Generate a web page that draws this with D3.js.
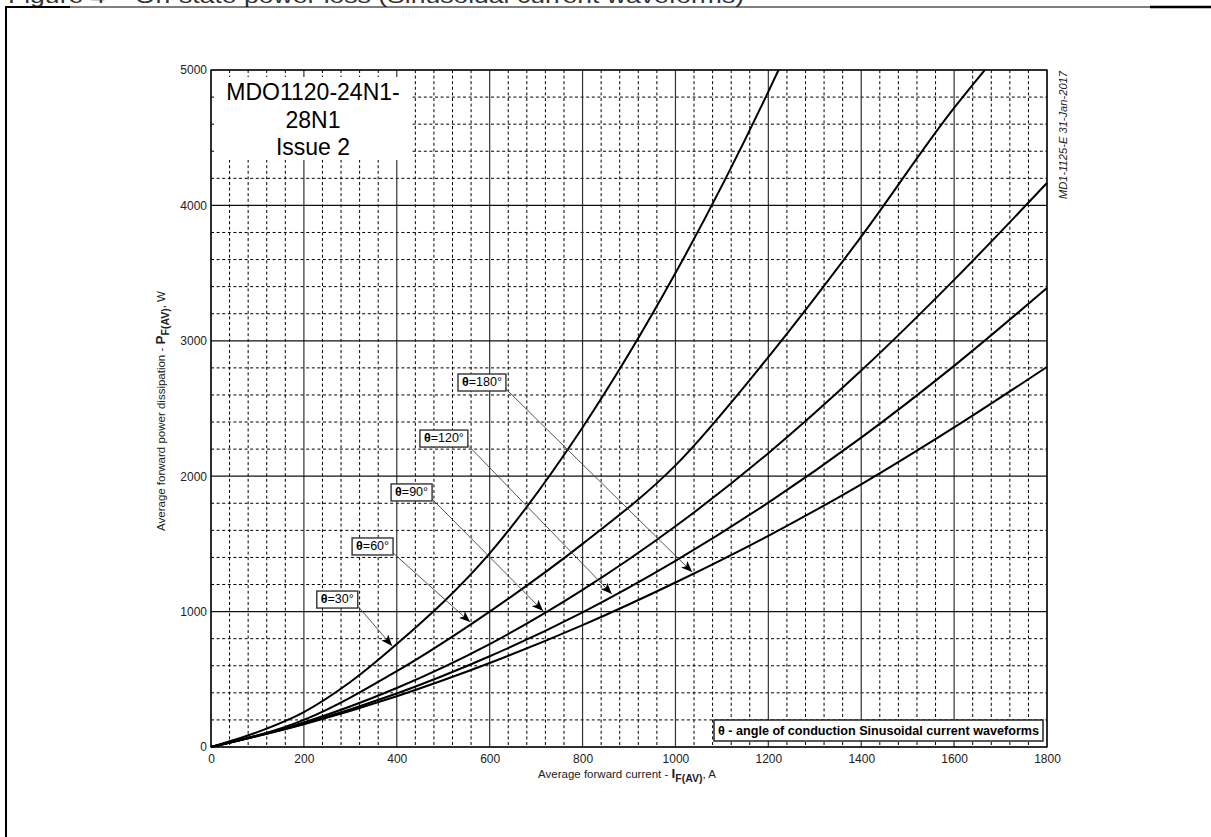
<!DOCTYPE html>
<html>
<head>
<meta charset="utf-8">
<script src="https://cdn.jsdelivr.net/npm/d3@7"></script>
<style>
  body { margin: 0; background: #fff; }
  svg { display: block; font-family: "Liberation Sans", Arial, sans-serif; }
</style>
</head>
<body>
<div id="chart"></div>
<script>
// tick values
var currentTicks = [0, 200, 400, 600, 800, 1000, 1200, 1400, 1600, 1800];
var powerTicks = [0, 1000, 2000, 3000, 4000, 5000];

// curves (A, W)
var current30 = [0, 100, 200, 300, 400, 600, 800, 1000, 1200, 1222];
var power30 = [0, 110, 258, 480, 760, 1430, 2360, 3500, 4840, 5000];
var current60 = [0, 200, 400, 600, 800, 1000, 1200, 1400, 1600, 1666];
var power60 = [0, 200, 560, 1000, 1500, 2080, 2880, 3770, 4720, 5000];
var currentFull = [0, 200, 400, 600, 800, 1000, 1200, 1400, 1600, 1800];
var power90 = [0, 182, 436, 760, 1160, 1630, 2170, 2780, 3450, 4166];
var power120 = [0, 172, 395, 670, 995, 1375, 1805, 2285, 2815, 3390];
var power180 = [0, 168, 375, 620, 900, 1215, 1560, 1940, 2360, 2807];

var angles = ["30°", "60°", "90°", "120°", "180°"];
var curveCurrents = [current30, current60, currentFull, currentFull, currentFull];
var curvePowers = [power30, power60, power90, power120, power180];

// annotation: label corner (A, W) and arrow tip current (A)
var labelCurrent = [316, 392, 476, 553, 635];
var labelPower = [1041, 1433, 1832, 2230, 2644];
var tipCurrent = [390, 558, 715, 863, 1036];

var W = 1211, H = 837;
var svg = d3.select("#chart").append("svg")
  .attr("width", W).attr("height", H);

// page header (cut off at the top, as in the source) and frame
svg.append("text")
  .attr("x", 8).attr("y", 3)
  .attr("font-size", 20).attr("fill", "#333")
  .attr("textLength", 736).attr("lengthAdjust", "spacingAndGlyphs")
  .text("Figure 4 – On-state power loss (Sinusoidal current waveforms)");
svg.append("line").attr("x1", 6).attr("x2", W).attr("y1", 7).attr("y2", 7)
  .attr("stroke", "#000").attr("stroke-width", 1);
svg.append("line").attr("x1", 6).attr("x2", 70).attr("y1", 7).attr("y2", 7)
  .attr("stroke", "#000").attr("stroke-width", 2);
svg.append("line").attr("x1", 1150).attr("x2", W).attr("y1", 7).attr("y2", 7)
  .attr("stroke", "#000").attr("stroke-width", 2.5);
svg.append("line").attr("x1", 6).attr("x2", 6).attr("y1", 6).attr("y2", H)
  .attr("stroke", "#000").attr("stroke-width", 2);

var x = d3.scaleLinear().domain([0, 1800]).range([211, 1047]);
var y = d3.scaleLinear().domain([0, 5000]).range([747, 70]);

// minor grid (dashed)
var g = svg.append("g");
var minorX = d3.range(40, 1800, 40).filter(function(d) { return d % 200 !== 0; });
var minorY = d3.range(200, 5000, 200).filter(function(d) { return d % 1000 !== 0; });
g.selectAll(".mx").data(minorX).enter().append("line")
  .attr("x1", function(d) { return x(d); }).attr("x2", function(d) { return x(d); })
  .attr("y1", y(5000)).attr("y2", y(0))
  .attr("stroke", "#000").attr("stroke-width", 1).attr("stroke-dasharray", "3,2.6");
g.selectAll(".my").data(minorY).enter().append("line")
  .attr("y1", function(d) { return y(d); }).attr("y2", function(d) { return y(d); })
  .attr("x1", x(0)).attr("x2", x(1800))
  .attr("stroke", "#000").attr("stroke-width", 1).attr("stroke-dasharray", "3,2.6");

// major grid (solid)
g.selectAll(".Mx").data(currentTicks).enter().append("line")
  .attr("x1", function(d) { return x(d); }).attr("x2", function(d) { return x(d); })
  .attr("y1", y(5000)).attr("y2", y(0))
  .attr("stroke", "#333").attr("stroke-width", 1.2);
g.selectAll(".My").data(powerTicks).enter().append("line")
  .attr("y1", function(d) { return y(d); }).attr("y2", function(d) { return y(d); })
  .attr("x1", x(0)).attr("x2", x(1800))
  .attr("stroke", "#111").attr("stroke-width", 1.2);
svg.append("rect")
  .attr("x", x(0)).attr("y", y(5000))
  .attr("width", x(1800) - x(0)).attr("height", y(0) - y(5000))
  .attr("fill", "none").attr("stroke", "#000").attr("stroke-width", 1.3);

// axes labels
var ax = svg.append("g").attr("transform", "translate(0," + y(0) + ")")
  .call(d3.axisBottom(x).tickValues(currentTicks).tickFormat(d3.format("d"))
    .tickSize(0).tickPadding(7));
var ay = svg.append("g").attr("transform", "translate(" + x(0) + ",0)")
  .call(d3.axisLeft(y).tickValues(powerTicks).tickFormat(d3.format("d"))
    .tickSize(0).tickPadding(4));
[ax, ay].forEach(function(a) {
  a.select(".domain").remove();
  a.selectAll("text").attr("font-size", 12).attr("fill", "#222")
    .attr("font-family", "'Liberation Sans', Arial, sans-serif");
});

// title box
svg.append("rect").attr("x", 215).attr("y", 77).attr("width", 196).attr("height", 83)
  .attr("fill", "#fff");
var tb = svg.append("text").attr("text-anchor", "middle").attr("font-size", 23).attr("fill", "#000");
["MDO1120-24N1-", "28N1", "Issue 2"].forEach(function(t, i) {
  tb.append("tspan").attr("x", 313).attr("y", 100 + i * 27.5).text(t);
});

// curves
var line = d3.line()
  .x(function(d) { return x(d[0]); })
  .y(function(d) { return y(d[1]); })
  .curve(d3.curveMonotoneX);
curvePowers.forEach(function(p, i) {
  var pts = curveCurrents[i].map(function(c, j) { return [c, p[j]]; });
  svg.append("path").datum(pts)
    .attr("d", line)
    .attr("fill", "none").attr("stroke", "#000").attr("stroke-width", 2);
});

// arrow marker
svg.append("defs").append("marker")
  .attr("id", "arr").attr("viewBox", "0 0 10 8")
  .attr("refX", 10).attr("refY", 4)
  .attr("markerWidth", 12).attr("markerHeight", 9)
  .attr("markerUnits", "userSpaceOnUse")
  .attr("orient", "auto")
  .append("path").attr("d", "M0,0 L10,4 L0,8 L2.5,4 Z").attr("fill", "#000");

function powerAt(i, c) {
  var cs = curveCurrents[i], ps = curvePowers[i];
  for (var j = 1; j < cs.length; j++) {
    if (c <= cs[j]) {
      var t = (c - cs[j - 1]) / (cs[j] - cs[j - 1]);
      return ps[j - 1] + t * (ps[j] - ps[j - 1]);
    }
  }
  return ps[ps.length - 1];
}

// annotations
angles.forEach(function(a, i) {
  var lx = x(labelCurrent[i]), ly = y(labelPower[i]);
  var tx = x(tipCurrent[i]), ty = y(powerAt(i, tipCurrent[i])) - 2;
  svg.append("line")
    .attr("x1", lx).attr("y1", ly).attr("x2", tx).attr("y2", ty)
    .attr("stroke", "#444").attr("stroke-width", 0.9)
    .attr("marker-end", "url(#arr)");
  var lg = svg.append("g");
  var rect = lg.append("rect");
  var t = lg.append("text").attr("font-size", 12.5).attr("fill", "#000");
  t.append("tspan").attr("font-weight", "bold").text("θ");
  t.append("tspan").text("=" + a);
  var w = t.node().getComputedTextLength() + 8;
  var h = 17;
  rect.attr("x", lx - w).attr("y", ly - h + 2).attr("width", w).attr("height", h)
    .attr("fill", "#fff").attr("stroke", "#333").attr("stroke-width", 1.4);
  t.attr("x", lx - w + 4).attr("y", ly - 3);
});

// legend box
var lgd = svg.append("g");
lgd.append("rect").attr("x", 714).attr("y", 720).attr("width", 329).attr("height", 21)
  .attr("fill", "#fff").attr("stroke", "#222").attr("stroke-width", 1.5);
lgd.append("text").attr("font-size", 12).attr("font-weight", "bold")
  .attr("x", 718).attr("y", 735)
  .attr("textLength", 321).attr("lengthAdjust", "spacingAndGlyphs")
  .text("θ - angle of conduction Sinusoidal current waveforms");

// axis titles
var yt = svg.append("text")
  .attr("transform", "translate(165,411) rotate(-90)")
  .attr("text-anchor", "middle").attr("font-size", 11.5).attr("fill", "#222");
yt.append("tspan").text("Average forward power dissipation - ");
yt.append("tspan").attr("font-weight", "bold").attr("font-size", 13.5).text("P");
yt.append("tspan").attr("font-weight", "bold").attr("font-size", 10.5).attr("dy", 4).text("F(AV)");
yt.append("tspan").attr("dy", -4).text(", W");

var xt = svg.append("text")
  .attr("x", 627).attr("y", 778)
  .attr("text-anchor", "middle").attr("font-size", 11.5).attr("fill", "#222");
xt.append("tspan").text("Average forward current - ");
xt.append("tspan").attr("font-weight", "bold").attr("font-size", 13.5).text("I");
xt.append("tspan").attr("font-weight", "bold").attr("font-size", 10.5).attr("dy", 4).text("F(AV)");
xt.append("tspan").attr("dy", -4).text(", A");

// document code on the right
svg.append("text")
  .attr("transform", "translate(1067,71) rotate(-90)")
  .attr("text-anchor", "end").attr("font-size", 10.5).attr("font-style", "italic")
  .attr("fill", "#222")
  .attr("textLength", 128).attr("lengthAdjust", "spacingAndGlyphs")
  .text("MD1-1125-E  31-Jan-2017");
</script>
</body>
</html>
